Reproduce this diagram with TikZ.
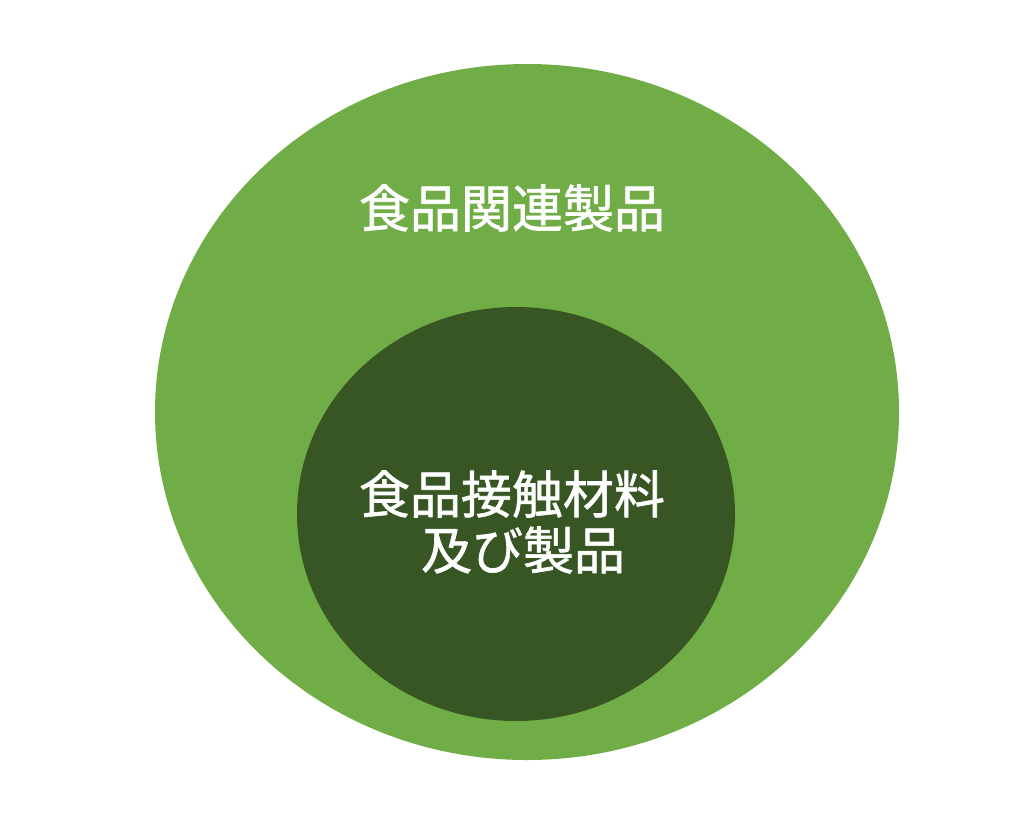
\documentclass[tikz,border=0pt]{standalone}
\usepackage{fontspec}
\newfontfamily\jpfont[FakeBold=1.2]{Noto Sans CJK JP}
\definecolor{outergreen}{HTML}{70AD47}
\definecolor{innergreen}{HTML}{375623}
\tikzset{
  label/.style={text=white, font=\jpfont\fontsize{51}{56}\selectfont, inner sep=0pt}
}
\begin{document}
\begin{tikzpicture}[x=1pt,y=-1pt]
\useasboundingbox (0,0) rectangle (1024,831);
\fill[outergreen] (527,412) ellipse [x radius=372, y radius=348];
\fill[innergreen] (516,514) ellipse [x radius=219, y radius=207];
\node[label] (outer) at (512,208) {食品関連製品};
\node[label] (inner1) at (512,494) {食品接触材料};
\node[label] (inner2) at (523,550) {及び製品};
\end{tikzpicture}
\end{document}
